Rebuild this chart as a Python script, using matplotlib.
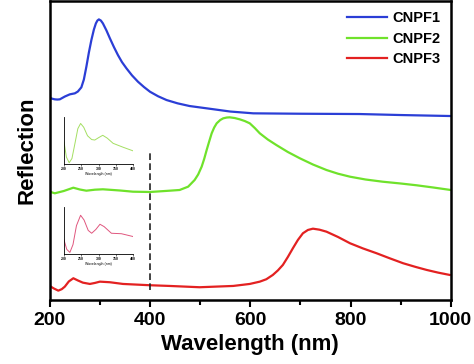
import numpy as np
import matplotlib
matplotlib.use('Agg')
import matplotlib.pyplot as plt
from matplotlib.ticker import MultipleLocator

plt.rcParams['font.family'] = ['Liberation Sans', 'DejaVu Sans']
plt.rcParams['font.weight'] = 'bold'

# main spectra (arbitrary reflection units, offset stacked)
wl_1 = [200, 205, 210, 215, 220, 230, 240, 250, 256, 263, 268, 273, 278, 283, 288, 292, 295,
        298, 302, 306, 313, 320, 328, 336, 344, 353, 364, 376, 388, 400, 416, 433, 455, 479,
        519, 560, 606, 700, 818, 900, 1000]
cnpf1 = [205.3, 204.3, 203.7, 203.5, 203.7, 206.5, 208.7, 209.7, 211.5, 215.7, 223.5, 236.3,
         250.5, 263, 273.5, 279.7, 282.5, 283.7, 282.5, 279.7, 272.7, 264.7, 256, 248, 241,
         234.7, 227.7, 221.3, 216, 211.3, 206.8, 203, 199.7, 197, 194.3, 191.5, 189.7, 189.3,
         189, 188, 187]

wl_2 = [200, 210, 228, 247, 260, 273, 290, 306, 340, 366, 400, 439, 459, 476, 489, 496, 503,
        508, 513, 518, 523, 528, 533, 540, 546, 553, 559, 569, 579, 589, 599, 609, 619, 635,
        652, 675, 699, 725, 752, 775, 799, 830, 864, 900, 932, 965, 1000]
cnpf2 = [111.3, 109.7, 112, 115.3, 113.5, 112.3, 113.3, 113.7, 112.5, 111.3, 111, 112.3, 113,
         116.3, 123, 128.5, 136.3, 144, 153, 161.5, 169.7, 175.5, 179.7, 183, 184.7, 185.5,
         185.7, 185, 183.7, 182, 179.7, 175, 169.7, 163.5, 158, 151, 144.7, 138.5, 133, 129.3,
         126.3, 123.5, 121.3, 119.5, 117.7, 115.5, 113]

wl_3 = [200, 208, 217, 224, 230, 238, 247, 256, 266, 280, 290, 300, 320, 346, 400, 439, 499,
        566, 599, 619, 632, 645, 655, 665, 675, 685, 695, 705, 715, 725, 738, 752, 775, 799,
        825, 852, 878, 905, 930, 952, 975, 998]
cnpf3 = [17, 14.5, 12.3, 13.8, 16.3, 21.5, 24.7, 22.5, 20.3, 19, 20, 21.3, 20.7, 19, 17.7, 17,
         15.7, 17, 19, 21.3, 23.7, 28, 32.5, 38, 46, 54.7, 63, 69.7, 73, 74.3, 73.3, 71.3, 66,
         59.7, 54.5, 49.7, 44.7, 39.7, 36, 33, 30.3, 28]

# insets (200-400 nm, normalised)
wl_in2 = [200, 207, 215, 223, 232, 240, 248, 257, 268, 280, 289, 300, 312, 325, 342, 370, 400]
in_cnpf2 = [0.47, 0.15, 0.03, 0.12, 0.45, 0.75, 0.86, 0.78, 0.6, 0.52, 0.51, 0.56, 0.61, 0.55,
            0.44, 0.36, 0.28]
wl_in3 = [200, 208, 217, 226, 236, 248, 258, 270, 280, 292, 304, 316, 337, 366, 400]
in_cnpf3 = [0.3, 0.1, 0.035, 0.2, 0.6, 0.82, 0.72, 0.5, 0.44, 0.52, 0.63, 0.58, 0.44, 0.43, 0.37]

in_ticks = [200, 250, 300, 350, 400]
xticks = [200, 400, 600, 800, 1000]
labels = ['CNPF1', 'CNPF2', 'CNPF3']
colors = ['#2b3ed6', '#6fe22b', '#e32121']

fig = plt.figure(figsize=(4.74, 3.64), dpi=100)
ax = fig.add_axes([0.105, 0.176, 0.846, 0.821])

ax.plot(wl_1, cnpf1, color=colors[0], lw=1.6, label=labels[0])
ax.plot(wl_2, cnpf2, color=colors[1], lw=1.6, label=labels[1])
ax.plot(wl_3, cnpf3, color=colors[2], lw=1.6, label=labels[2])
ax.vlines(400, 13, 153, colors='#222222', linestyles=(0, (4, 2)), lw=1.2)

ax.set_xlim(200, 1000)
ax.set_ylim(3, 302)
ax.set_xticks(xticks)
ax.xaxis.set_minor_locator(MultipleLocator(100))
ax.set_yticks([])
ax.tick_params(axis='x', which='major', direction='out', length=5, width=1.5,
               labelsize=14, pad=4)
ax.tick_params(axis='x', which='minor', direction='out', length=3.5, width=1.5)
for s in ax.spines.values():
    s.set_linewidth(1.8)
ax.set_xlabel('Wavelength (nm)', fontsize=16, fontweight='bold', labelpad=3)
ax.set_ylabel('Reflection', fontsize=16, fontweight='bold', labelpad=9)

leg = ax.legend(loc='upper right', frameon=False, fontsize=10.5, handlelength=2.7,
                handletextpad=0.4, labelspacing=0.45, borderaxespad=0.3)
for t in leg.get_texts():
    t.set_fontweight('bold')

# small insets
for pos, xs, ys, c in [([0.135, 0.549, 0.146, 0.13], wl_in2, in_cnpf2, '#a4df62'),
                       ([0.135, 0.302, 0.146, 0.13], wl_in3, in_cnpf3, '#e0567e')]:
    ins = fig.add_axes(pos)
    ins.plot(xs, ys, color=c, lw=0.7)
    ins.set_xlim(200, 400)
    ins.set_ylim(0, 1)
    ins.set_xticks(in_ticks)
    ins.set_yticks([])
    ins.spines['top'].set_visible(False)
    ins.spines['right'].set_visible(False)
    ins.spines['left'].set_linewidth(0.6)
    ins.spines['bottom'].set_linewidth(0.6)
    ins.tick_params(axis='x', length=1.2, width=0.4, labelsize=2.5, pad=0.8)
    ins.set_xlabel('Wavelength (nm)', fontsize=2.5, labelpad=0.8)
    ins.patch.set_alpha(0)

fig.savefig('out.png', dpi=100)
